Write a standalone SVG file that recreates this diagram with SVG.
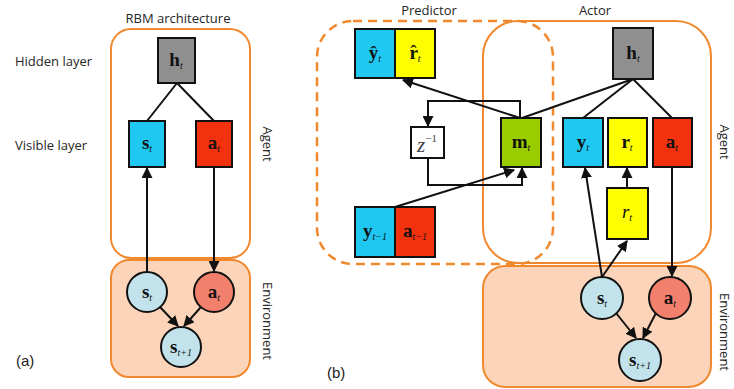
<svg xmlns="http://www.w3.org/2000/svg" width="734" height="389" viewBox="0 0 734 389">
  <style>
    .lbl { font-family: "Open Sans", "DejaVu Sans", sans-serif; font-size: 13px; fill: #262626; }
    .tag { font-family: "Liberation Sans", Arial, sans-serif; font-size: 15px; fill: #222; }
    .math { font-family: "Liberation Serif", "Times New Roman", serif; font-size: 19px; font-weight: bold; fill: #111; text-anchor: middle; }
    .sub { font-size: 10px; font-style: italic; font-weight: normal; }
    .agent { fill: #fff; stroke: #f0892e; stroke-width: 2; }
    .env { fill: #fbd4b9; stroke: #f0892e; stroke-width: 2; }
    .pred { fill: none; stroke: #f0892e; stroke-width: 2.5; stroke-dasharray: 9 6; }
    .box { stroke: #111; stroke-width: 2; }
    .cyan { fill: #1ec8f0; }
    .yellow { fill: #ffff00; }
    .red { fill: #f2320f; }
    .gray { fill: #8f8f8f; }
    .green { fill: #9acd00; }
    .white { fill: #fff; }
    .cblue { fill: #c3e3ec; }
    .cred { fill: #f2806c; }
    .edge { fill: none; stroke: #111; stroke-width: 2; }
  </style>
  <defs>
    <marker id="arrow" viewBox="0 0 10 10" refX="9" refY="5" markerWidth="5.5" markerHeight="5.5" orient="auto" markerUnits="strokeWidth">
      <path d="M0,0 L10,5 L0,10 z" fill="#111"/>
    </marker>
  </defs>

  <!-- ===== Panel (a) ===== -->
  <text class="lbl" x="178" y="23" text-anchor="middle">RBM architecture</text>
  <text class="lbl" x="15" y="66">Hidden layer</text>
  <text class="lbl" x="15" y="150">Visible layer</text>
  <rect id="a-agent" class="agent" x="111" y="29" width="139" height="229" rx="20"/>
  <rect id="a-env" class="env" x="111" y="260" width="139" height="117" rx="18"/>
  <text class="lbl" transform="translate(263,144) rotate(90)" text-anchor="middle">Agent</text>
  <text class="lbl" transform="translate(263,321) rotate(90)" text-anchor="middle">Environment</text>
  <text class="tag" x="16" y="366">(a)</text>

  <!-- ===== Panel (b) containers ===== -->
  <text class="lbl" x="429" y="15" text-anchor="middle">Predictor</text>
  <text class="lbl" x="595" y="15" text-anchor="middle">Actor</text>
  <rect id="b-actor" class="agent" x="483" y="21" width="228" height="242" rx="35"/>
  <rect id="b-env" class="env" x="483" y="266" width="228" height="121" rx="22"/>
  <rect id="b-predictor" class="pred" x="317" y="21" width="236" height="243" rx="36"/>
  <text class="lbl" transform="translate(720,142) rotate(90)" text-anchor="middle">Agent</text>
  <text class="lbl" transform="translate(720,332) rotate(90)" text-anchor="middle">Environment</text>
  <text class="tag" x="327" y="378">(b)</text>

  <!-- ===== Connectors ===== -->
  <g id="connectors">
    <!-- panel (a) -->
    <line class="edge" x1="177" y1="83" x2="147" y2="121"/>
    <line class="edge" x1="177" y1="83" x2="214" y2="121"/>
    <line class="edge" x1="147" y1="272" x2="147" y2="168" marker-end="url(#arrow)"/>
    <line class="edge" x1="214" y1="167" x2="214" y2="271" marker-end="url(#arrow)"/>
    <line class="edge" x1="160" y1="307" x2="178" y2="326" marker-end="url(#arrow)"/>
    <line class="edge" x1="201" y1="307" x2="184" y2="326" marker-end="url(#arrow)"/>
    <!-- panel (b) -->
    <line class="edge" x1="520" y1="118" x2="403" y2="80" marker-end="url(#arrow)"/>
    <path class="edge" d="M520,118 V101 H428 V126" marker-end="url(#arrow)"/>
    <path class="edge" d="M428,158 V185 H522 V168" marker-end="url(#arrow)"/>
    <line class="edge" x1="395" y1="207" x2="514" y2="170" marker-end="url(#arrow)"/>
    <line class="edge" x1="633" y1="79" x2="522" y2="118"/>
    <line class="edge" x1="633" y1="79" x2="583" y2="118"/>
    <line class="edge" x1="633" y1="79" x2="672" y2="118"/>
    <line class="edge" x1="627" y1="188" x2="627" y2="168" marker-end="url(#arrow)"/>
    <line class="edge" x1="602" y1="277" x2="585" y2="168" marker-end="url(#arrow)"/>
    <line class="edge" x1="602" y1="277" x2="627" y2="241" marker-end="url(#arrow)"/>
    <line class="edge" x1="672" y1="167" x2="672" y2="276" marker-end="url(#arrow)"/>
    <line class="edge" x1="616" y1="313" x2="636" y2="338" marker-end="url(#arrow)"/>
    <line class="edge" x1="656" y1="313" x2="643" y2="338" marker-end="url(#arrow)"/>
  </g>

  <!-- ===== Nodes, panel (a) ===== -->
  <g id="a-h">
    <rect class="box gray" x="158" y="38" width="37" height="45"/>
    <text class="math" x="176" y="66">h<tspan class="sub" dy="3">t</tspan></text>
  </g>
  <g id="a-s">
    <rect class="box cyan" x="129" y="121" width="36" height="46"/>
    <text class="math" x="147" y="149">s<tspan class="sub" dy="3">t</tspan></text>
  </g>
  <g id="a-a">
    <rect class="box red" x="196" y="121" width="36" height="46"/>
    <text class="math" x="214" y="149">a<tspan class="sub" dy="3">t</tspan></text>
  </g>
  <g id="a-env-s">
    <circle class="box cblue" cx="147" cy="292" r="20"/>
    <text class="math" x="147" y="298">s<tspan class="sub" dy="3">t</tspan></text>
  </g>
  <g id="a-env-a">
    <circle class="box cred" cx="214" cy="292" r="20"/>
    <text class="math" x="214" y="298">a<tspan class="sub" dy="3">t</tspan></text>
  </g>
  <g id="a-env-s1">
    <circle class="box cblue" cx="181" cy="347" r="20"/>
    <text class="math" x="181" y="353">s<tspan class="sub" dy="3">t+1</tspan></text>
  </g>

  <!-- ===== Nodes, panel (b) ===== -->
  <g id="b-yhat">
    <rect class="box cyan" x="355" y="29" width="40" height="49"/>
    <text class="math" x="375" y="59">ŷ<tspan class="sub" dy="3">t</tspan></text>
  </g>
  <g id="b-rhat">
    <rect class="box yellow" x="395" y="29" width="40" height="49"/>
    <text class="math" x="415" y="59">r<tspan class="sub" dy="3">t</tspan></text>
    <text class="math" x="413.5" y="58" style="font-weight:normal">ˆ</text>
  </g>
  <g id="b-delay">
    <rect class="box white" x="411" y="127" width="33" height="31"/>
    <text class="math" x="427" y="152" style="font-weight:normal;font-style:italic;fill:#444;font-size:21px">z<tspan font-size="11" font-style="normal" dy="-10">−1</tspan></text>
  </g>
  <g id="b-m">
    <rect class="box green" x="501" y="118" width="40" height="49"/>
    <text class="math" x="521" y="148">m<tspan class="sub" dy="3">t</tspan></text>
  </g>
  <g id="b-h">
    <rect class="box gray" x="613" y="28" width="40" height="51"/>
    <text class="math" x="633" y="59">h<tspan class="sub" dy="3">t</tspan></text>
  </g>
  <g id="b-y">
    <rect class="box cyan" x="563" y="118" width="40" height="49"/>
    <text class="math" x="583" y="148">y<tspan class="sub" dy="3">t</tspan></text>
  </g>
  <g id="b-r">
    <rect class="box yellow" x="608" y="118" width="39" height="49"/>
    <text class="math" x="627" y="148">r<tspan class="sub" dy="3">t</tspan></text>
  </g>
  <g id="b-a">
    <rect class="box red" x="653" y="118" width="39" height="49"/>
    <text class="math" x="672" y="148">a<tspan class="sub" dy="3">t</tspan></text>
  </g>
  <g id="b-reward">
    <rect class="box yellow" x="607" y="188" width="41" height="51"/>
    <text class="math" x="627" y="218" style="font-weight:normal;font-style:italic">r<tspan class="sub" dy="3">t</tspan></text>
  </g>
  <g id="b-yprev">
    <rect class="box cyan" x="355" y="207" width="40" height="50"/>
    <text class="math" x="375" y="237">y<tspan class="sub" dy="3">t−1</tspan></text>
  </g>
  <g id="b-aprev">
    <rect class="box red" x="395" y="207" width="40" height="50"/>
    <text class="math" x="415" y="237">a<tspan class="sub" dy="3">t−1</tspan></text>
  </g>
  <g id="b-env-s">
    <circle class="box cblue" cx="602" cy="298" r="21"/>
    <text class="math" x="602" y="304">s<tspan class="sub" dy="3">t</tspan></text>
  </g>
  <g id="b-env-a">
    <circle class="box cred" cx="670" cy="298" r="21"/>
    <text class="math" x="670" y="304">a<tspan class="sub" dy="3">t</tspan></text>
  </g>
  <g id="b-env-s1">
    <circle class="box cblue" cx="640" cy="360" r="21"/>
    <text class="math" x="640" y="366">s<tspan class="sub" dy="3">t+1</tspan></text>
  </g>
</svg>
